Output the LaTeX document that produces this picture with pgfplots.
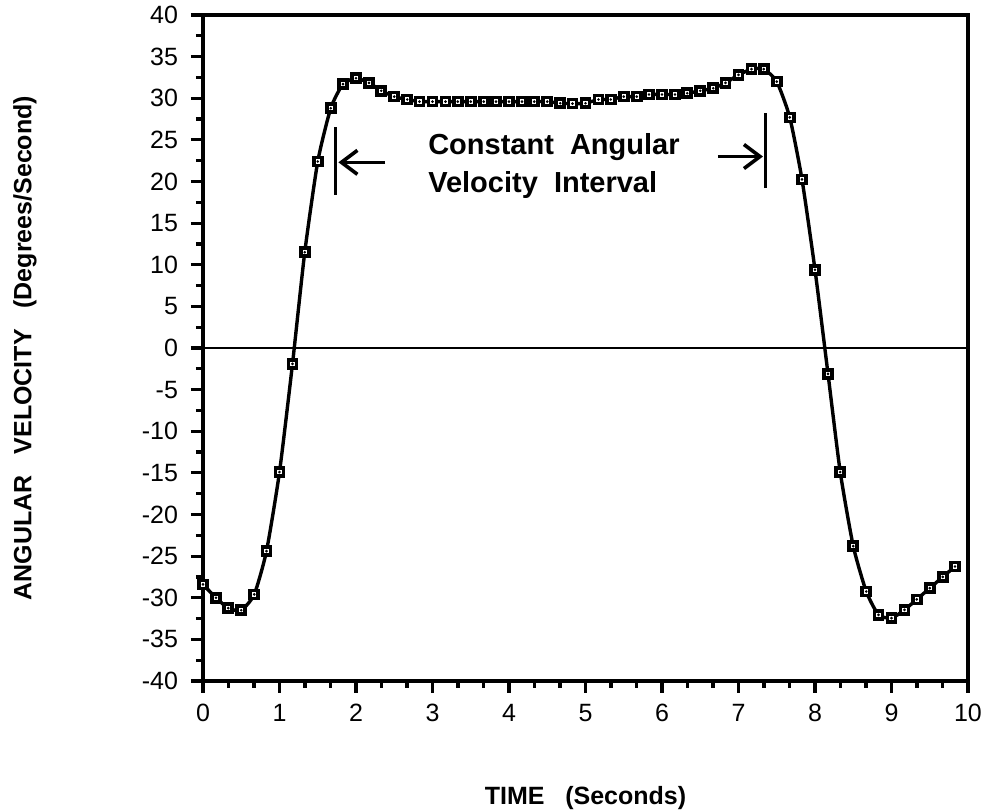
\documentclass[border=0pt]{standalone}
\usepackage{fontspec}
\setmainfont{Liberation Sans}
\usepackage{pgfplots}
\pgfplotsset{compat=1.18}
\usetikzlibrary{arrows.meta}
\begin{document}
\begin{tikzpicture}
\begin{axis}[
  scale only axis,
  width=382.5pt, height=333pt,
  xmin=0, xmax=10, ymin=-40, ymax=40,
  xtick={0,1,...,10}, ytick={-40,-35,...,40},
  minor x tick num=2, minor y tick num=1,
  xtick pos=left, ytick pos=left,
  tick align=outside,
  major tick length=6pt, minor tick length=3.5pt,
  every tick/.style={black, line width=1.6pt},
  axis line style={line width=2.2pt},
  /pgf/number format/assume math mode=true,
  ticklabel style={font=\fontsize{12.5}{14}\selectfont},
  xticklabel style={yshift=-2pt},
  yticklabel style={xshift=-3pt},
  xlabel={\textbf{TIME\ \ \ (Seconds)}},
  ylabel={\textbf{ANGULAR\ \ \ VELOCITY\ \ \ (Degrees/Second)}},
  label style={font=\fontsize{12.5}{15}\selectfont},
  xlabel style={at={(axis description cs:0.5,-0.1757)}, anchor=center},
  ylabel style={at={(axis description cs:-0.2327,0.5)}, anchor=center},
  clip=false,
]
\draw[line width=1.3pt] (axis cs:0,0) -- (axis cs:10,0);
\addplot[black, line width=1.7pt, smooth, tension=0.35,
  mark=square*, mark size=2.0pt,
  mark options={fill=white, draw=black, line width=1.8pt}]
coordinates {
(0.00,-28.4) (0.17,-30.0) (0.33,-31.25) (0.50,-31.5) (0.67,-29.6) (0.83,-24.4)
(1.00,-14.9) (1.17,-1.9) (1.33,11.5) (1.50,22.4) (1.67,28.8) (1.83,31.7)
(2.00,32.4) (2.17,31.85) (2.33,30.9) (2.50,30.2) (2.67,29.85) (2.83,29.6)
(3.00,29.6) (3.17,29.6) (3.33,29.6) (3.50,29.6) (3.67,29.6) (3.83,29.6)
(4.00,29.6) (4.17,29.6) (4.33,29.6) (4.50,29.6) (4.67,29.4) (4.83,29.35)
(5.00,29.4) (5.17,29.85) (5.33,29.85) (5.50,30.2) (5.67,30.2) (5.83,30.45)
(6.00,30.45) (6.17,30.45) (6.33,30.6) (6.50,30.9) (6.67,31.2) (6.83,31.85)
(7.00,32.8) (7.17,33.5) (7.33,33.5) (7.50,32.0) (7.67,27.7) (7.83,20.25)
(8.00,9.4) (8.17,-3.1) (8.33,-14.9) (8.50,-23.8) (8.67,-29.25) (8.83,-32.05)
(9.00,-32.45) (9.17,-31.45) (9.33,-30.2) (9.50,-28.85) (9.67,-27.5) (9.83,-26.25)
};
\addplot[only marks, mark=*, mark size=0.45pt, black]
coordinates {
(0.00,-28.4) (0.17,-30.0) (0.33,-31.25) (0.50,-31.5) (0.67,-29.6) (0.83,-24.4)
(1.00,-14.9) (1.17,-1.9) (1.33,11.5) (1.50,22.4) (1.67,28.8) (1.83,31.7)
(2.00,32.4) (2.17,31.85) (2.33,30.9) (2.50,30.2) (2.67,29.85) (2.83,29.6)
(3.00,29.6) (3.17,29.6) (3.33,29.6) (3.50,29.6) (3.67,29.6) (3.83,29.6)
(4.00,29.6) (4.17,29.6) (4.33,29.6) (4.50,29.6) (4.67,29.4) (4.83,29.35)
(5.00,29.4) (5.17,29.85) (5.33,29.85) (5.50,30.2) (5.67,30.2) (5.83,30.45)
(6.00,30.45) (6.17,30.45) (6.33,30.6) (6.50,30.9) (6.67,31.2) (6.83,31.85)
(7.00,32.8) (7.17,33.5) (7.33,33.5) (7.50,32.0) (7.67,27.7) (7.83,20.25)
(8.00,9.4) (8.17,-3.1) (8.33,-14.9) (8.50,-23.8) (8.67,-29.25) (8.83,-32.05)
(9.00,-32.45) (9.17,-31.45) (9.33,-30.2) (9.50,-28.85) (9.67,-27.5) (9.83,-26.25)
};
% annotation
\draw[line width=1.3pt] (axis cs:1.73,18.4) -- (axis cs:1.73,26.5);
\draw[line width=1.8pt, -{Straight Barb[length=8pt,width=12pt,line width=1.8pt]}] (axis cs:2.38,22.3) -- (axis cs:1.77,22.3);
\draw[line width=1.3pt] (axis cs:7.35,19.2) -- (axis cs:7.35,28.2);
\draw[line width=1.8pt, -{Straight Barb[length=8pt,width=12pt,line width=1.8pt]}] (axis cs:6.73,23.0) -- (axis cs:7.32,23.0);
\node[anchor=west, align=left, inner sep=0pt, font=\fontsize{14.5}{19}\selectfont\bfseries]
  at (axis cs:2.94,21.85) {Constant\ \ Angular\\Velocity\ \ Interval};
\end{axis}
\pgfresetboundingbox
\path ([shift={(-101.5pt,-65.5pt)}]current axis.south west) rectangle ([shift={(9.5pt,7.5pt)}]current axis.north east);
\end{tikzpicture}
\end{document}
